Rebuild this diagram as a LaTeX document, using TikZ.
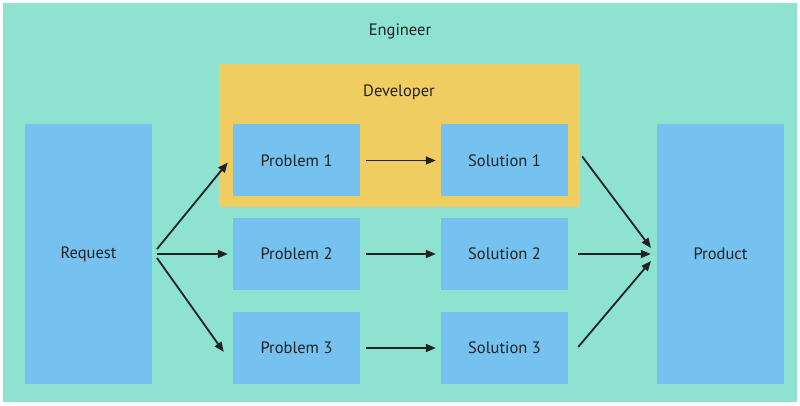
\documentclass[tikz,border=0pt]{standalone}
\usepackage{fontspec}
\setmainfont{PT Sans}
\usetikzlibrary{arrows.meta,calc}
\definecolor{teal}{HTML}{8DE2D0}
\definecolor{ylw}{HTML}{F0CD60}
\definecolor{blu}{HTML}{75C1F0}
\definecolor{ink}{HTML}{222222}
\tikzset{
  fnt/.style={font=\fontsize{16.5}{19}\selectfont,text=ink},
  box/.style={fnt,fill=blu,draw=none,minimum width=127pt,minimum height=72pt,inner sep=0pt},
  tall/.style={fnt,fill=blu,draw=none,minimum width=127pt,minimum height=260pt,inner sep=0pt},
  lbl/.style={fnt,inner sep=0pt},
  arr/.style={draw=ink,line width=1.8pt,-{Triangle[length=10pt,width=8pt]}}
}
\begin{document}
\begin{tikzpicture}[x=1pt,y=-1pt]
\useasboundingbox[fill=white] (0,0) rectangle (800,406);
\node[fill=teal,minimum width=794pt,minimum height=399pt,inner sep=0pt] (eng) at (400,202.5) {};
\node[lbl] (englbl) at (400,31) {Engineer};
\node[fill=ylw,minimum width=361pt,minimum height=143pt,inner sep=0pt] (dev) at (399.5,135.5) {};
\node[lbl] (devlbl) at (399,92) {Developer};
\node[tall] (req) at (88.5,254) {Request};
\node[tall] (prod) at (720.5,254) {Product};
\node[box] (p1) at (296.5,160.5) {Problem 1};
\node[box] (p2) at (296.5,254) {Problem 2};
\node[box] (p3) at (296.5,348) {Problem 3};
\node[box] (s1) at (504.5,160.5) {Solution 1};
\node[box] (s2) at (504.5,254) {Solution 2};
\node[box] (s3) at (504.5,348) {Solution 3};
\coordinate (r1) at (157,249);
\coordinate (r2) at (157,254);
\coordinate (r3) at (157,258);
\coordinate (q1) at (651,248);
\coordinate (q3) at (651,261);
\draw[arr] (r1) -- ($(p1.west)+(-5,2)$);
\draw[arr] (r2) -- ($(p2.west)+(-5,0)$);
\draw[arr] (r3) -- ($(p3.west)+(-9,4)$);
\draw[arr,shorten <=6pt,shorten >=5pt] (p1) -- (s1);
\draw[arr,shorten <=6pt,shorten >=5pt] (p2) -- (s2);
\draw[arr,shorten <=6pt,shorten >=5pt] (p3) -- (s3);
\draw[arr] ($(s1.east)+(14,-4)$) -- (q1);
\draw[arr,shorten <=10pt,shorten >=6pt] (s2) -- (prod);
\draw[arr] ($(s3.east)+(10,-1)$) -- (q3);
\end{tikzpicture}
\end{document}
